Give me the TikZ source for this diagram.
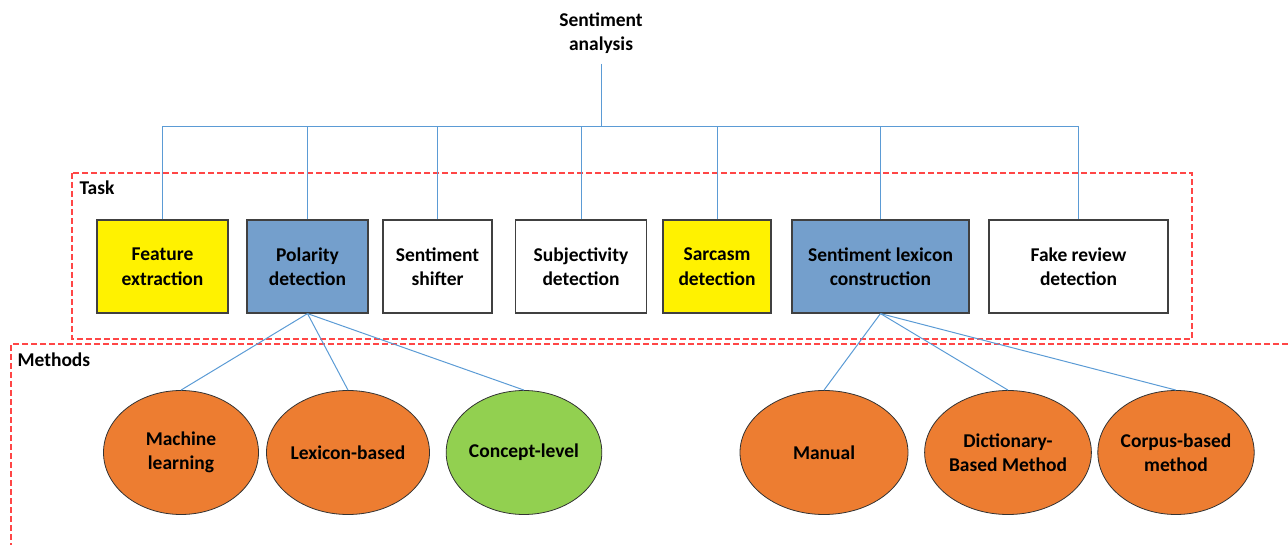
\documentclass[tikz,border=0pt]{standalone}
\usepackage{fontspec}
\setmainfont{Carlito}
\usepackage{xcolor}
\usetikzlibrary{shapes.geometric}

\begin{document}
\begin{tikzpicture}[x=1pt,y=-1pt]
      \definecolor{linkcolor}{RGB}{91,155,213}
      \definecolor{taskblue}{RGB}{116,159,204}
      \definecolor{methorange}{RGB}{237,125,49}
      \definecolor{methgreen}{RGB}{146,208,80}
      \definecolor{frameline}{RGB}{255,70,70}
      \tikzset{every node/.style={font=\fontsize{19.5}{24.5}\selectfont\bfseries,align=center},
               taskbox/.style={draw=black!75,line width=1.2pt,minimum height=93pt,inner sep=0pt},
               methnode/.style={ellipse,draw=black!80,line width=0.8pt,fill=methorange,minimum height=124pt,inner sep=0pt},
               link/.style={draw=linkcolor,line width=1pt},
               frame/.style={draw=frameline,line width=1.1pt,dash pattern=on 6pt off 3pt}}

      \useasboundingbox (0,0) rectangle (1288,545);

      % frames
      \draw[frame] (72,173) rectangle (1192,339);
      \draw[frame] (1288,344) -| (11,545);
      \node[anchor=west] (tasklbl) at (76,188) {Task};
      \node[anchor=west] (methlbl) at (14,360) {Methods};

      % root
      \node[inner sep=0pt] (sa) at (601,33) {Sentiment\\analysis};
      \coordinate (hub) at (601,127);

      % tasks
      \node[taskbox,fill=yellow,minimum width=131pt] (feat) at (162.5,266.5) {Feature\\extraction};
      \node[taskbox,fill=taskblue,minimum width=121pt] (pol) at (307.5,266.5) {Polarity\\detection};
      \node[taskbox,fill=white,minimum width=109pt] (shift) at (437.5,266.5) {Sentiment\\shifter};
      \node[taskbox,fill=white,minimum width=131pt] (subj) at (581,266.5) {Subjectivity\\detection};
      \node[taskbox,fill=yellow,minimum width=108pt] (sarc) at (717,266.5) {Sarcasm\\detection};
      \node[taskbox,fill=taskblue,minimum width=177pt] (lexc) at (880.5,266.5) {Sentiment lexicon\\construction};
      \node[taskbox,fill=white,minimum width=179pt] (fake) at (1078.5,266.5) {Fake review\\detection};

      % methods
      \node[methnode,minimum width=155pt] (ml) at (181,452.5) {Machine\\learning};
      \node[methnode,minimum width=163pt] (lexb) at (348,452.5) {Lexicon-based};
      \node[methnode,fill=methgreen,minimum width=155pt] (conc) at (524,452.5) {Concept-level};
      \node[methnode,minimum width=168pt] (man) at (824,452.5) {Manual};
      \node[methnode,minimum width=163pt] (dict) at (1008,452.5) {Dictionary-\\Based Method};
      \node[methnode,minimum width=155pt] (corp) at (1176,452.5) {Corpus-based\\method};

      % tree links
      \draw[link] ([yshift=-10pt]sa.south) -- (hub);
      \foreach \t in {feat,pol,shift,subj,sarc,lexc,fake}
          \draw[link] (\t.north) |- (hub);
      \foreach \m in {ml,lexb,conc}
          \draw[link] (pol.south) -- (\m.north);
      \foreach \m in {man,dict,corp}
          \draw[link] (lexc.south) -- (\m.north);
\end{tikzpicture}
\end{document}
